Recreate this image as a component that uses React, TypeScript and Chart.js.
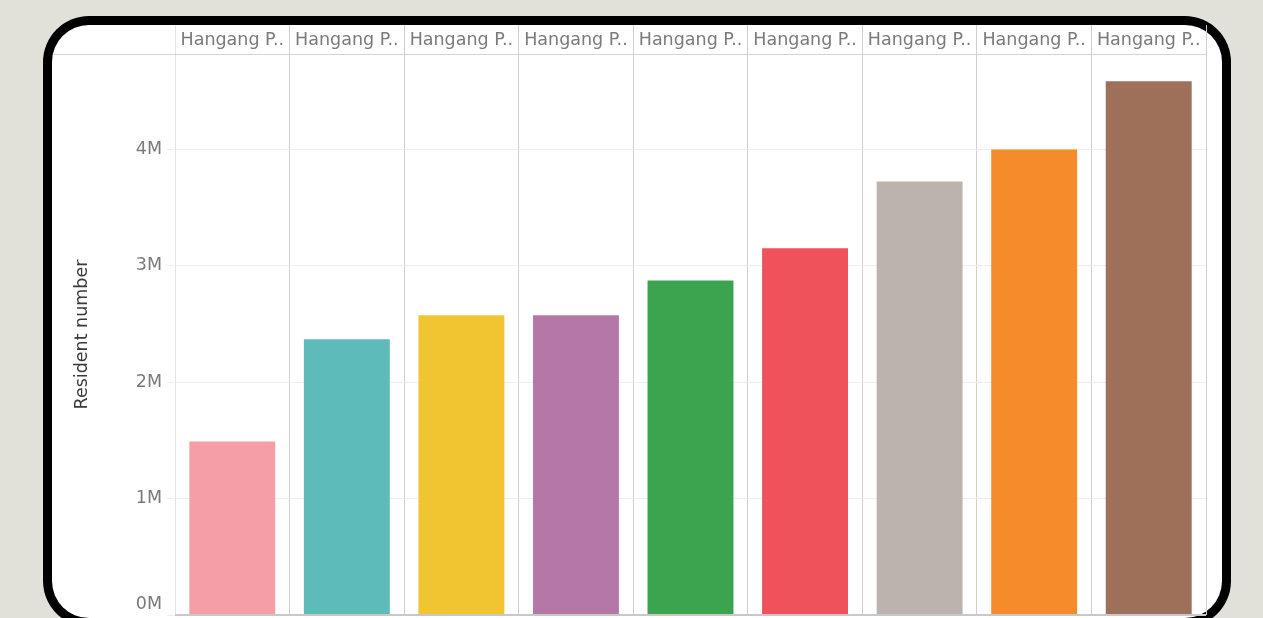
import React, { useEffect, useRef } from "react";
import { Chart, registerables } from "chart.js";

Chart.register(...registerables);

const categories = [
  "Hangang P..", "Hangang P..", "Hangang P..", "Hangang P..", "Hangang P..",
  "Hangang P..", "Hangang P..", "Hangang P..", "Hangang P..",
];
const residents = [1490000, 2370000, 2575000, 2575000, 2875000, 3150000, 3725000, 4000000, 4585000];
const barColors = [
  "#f69ea7", "#5dbcb9", "#f1c431", "#b577a6", "#3ca34e",
  "#ef525b", "#bcb2ae", "#f58b2a", "#9e7059",
];
const yTicks = [0, 1000000, 2000000, 3000000, 4000000];
const yTitle = "Resident number";

const FONT = "'DejaVu Sans', 'Noto Sans', sans-serif";

const headerLinePlugin = {
  id: "headerLine",
  afterDraw(chart: any) {
    const { ctx, chartArea } = chart;
    ctx.save();
    ctx.strokeStyle = "#d4d4d4";
    ctx.lineWidth = 1;
    ctx.beginPath();
    ctx.moveTo(1, chartArea.top + 0.5);
    ctx.lineTo(chartArea.left, chartArea.top + 0.5);
    ctx.stroke();
    ctx.strokeStyle = "#c8c8c8";
    ctx.lineWidth = 2;
    ctx.beginPath();
    ctx.moveTo(chartArea.left, chartArea.bottom);
    ctx.lineTo(chartArea.right, chartArea.bottom);
    ctx.stroke();
    ctx.restore();
  },
};

// outer card frame, clipped at the bottom of the 618px page
const OUTER_PATH =
  "M 43 62 A 46 46 0 0 1 89 16 L 1185 16 A 46 46 0 0 1 1231 62 L 1231 581 " +
  "A 46 46 0 0 1 1212.3 618 L 61.7 618 A 46 46 0 0 1 43 581 Z";

export default function App() {
  const ref = useRef<HTMLCanvasElement>(null);
  useEffect(() => {
    if (!ref.current) return;
    const chart = new Chart(ref.current, {
      type: "bar",
      data: {
        labels: categories,
        datasets: [
          {
            data: residents,
            backgroundColor: barColors,
            barPercentage: 0.75,
            categoryPercentage: 1,
          },
        ],
      },
      options: {
        animation: false,
        responsive: false,
        maintainAspectRatio: false,
        layout: { padding: { top: 0, left: 0, right: 16, bottom: 3 } },
        plugins: { legend: { display: false }, tooltip: { enabled: false } },
        scales: {
          x: {
            position: "top",
            offset: true,
            grid: {
              offset: true,
              drawTicks: true,
              tickLength: 29,
              color: (c: any) => (c.index === 0 ? "#e4e4e4" : "#cfcfcf"),
              lineWidth: 1,
            },
            border: { display: true, color: "#d4d4d4" },
            ticks: {
              autoSkip: false,
              maxRotation: 0,
              minRotation: 0,
              padding: -26,
              color: "#7a7a7a",
              font: { family: FONT, size: 17.5 },
            },
            afterFit: (s: any) => {
              s.height = 29;
            },
          },
          y: {
            min: 0,
            max: 4820000,
            afterBuildTicks: (s: any) => {
              s.ticks = yTicks.map((v) => ({ value: v }));
            },
            grid: {
              color: "#eeeeee",
              tickLength: 8,
              lineWidth: 1,
            },
            border: { display: false },
            ticks: {
              padding: 5,
              color: "#7a7a7a",
              font: { family: FONT, size: 17.5, lineHeight: 1.25 },
              callback: (v: any) => {
                const t = `${Number(v) / 1000000}M`;
                return Number(v) === 0 ? [t, ""] : t;
              },
            },
            title: {
              display: true,
              text: yTitle,
              color: "#3a3a3a",
              font: { family: FONT, size: 17.5 },
              padding: { top: 20, bottom: 0 },
            },
            afterFit: (s: any) => {
              s.width = 123;
              s.paddingTop = 0;
              s.paddingBottom = 0;
            },
          },
        },
      },
      plugins: [headerLinePlugin],
    });
    return () => chart.destroy();
  }, []);

  return (
    <div
      style={{
        position: "fixed",
        left: 0,
        top: 0,
        width: 1263,
        height: 618,
        background: "#e1e0d9",
        overflow: "hidden",
      }}
    >
      <svg
        width={1263}
        height={618}
        style={{ position: "absolute", left: 0, top: 0, display: "block" }}
      >
        <path d={OUTER_PATH} fill="#000" />
        <rect x={52} y={25} width={1170} height={593} rx={37} ry={37} fill="#fff" />
      </svg>
      <canvas
        ref={ref}
        width={1170}
        height={593}
        style={{ position: "absolute", left: 52, top: 25, width: 1170, height: 593, display: "block" }}
      />
    </div>
  );
}
